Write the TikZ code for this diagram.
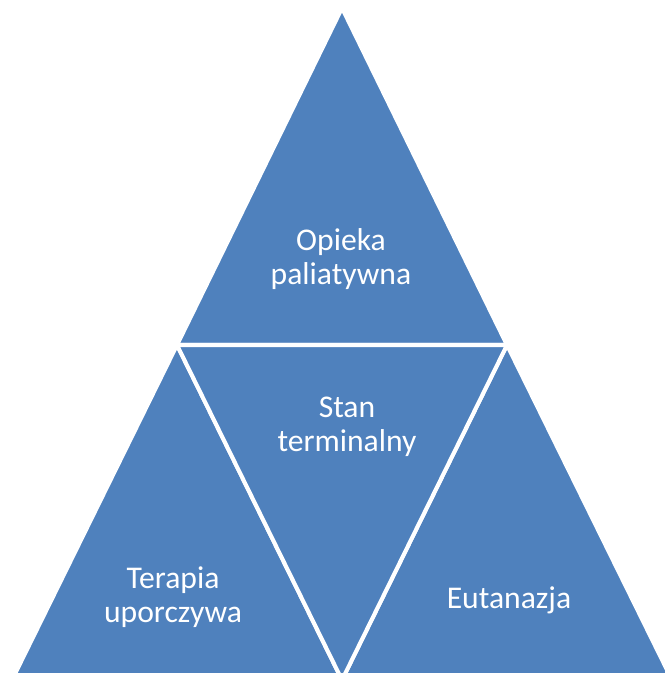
\documentclass[tikz,border=0pt]{standalone}
\usepackage{fontspec}
\setmainfont{Carlito}
\definecolor{pyrblue}{HTML}{4F81BD}

\begin{document}
\begin{tikzpicture}[x=0.02cm,y=-0.02cm]
\tikzstyle{every node}+=[inner sep=0pt]
\tikzstyle{tri}=[fill=pyrblue,draw=white,line width=2.3pt,line join=miter]
\tikzstyle{lbl}=[text=white,align=center,font=\fontsize{18}{19.2}\selectfont]
\useasboundingbox (0,0) rectangle (665,673);
\clip (0,0) rectangle (665,673);
% corners of the pyramid
\coordinate (T) at (342,8);
\coordinate (ML) at (177,345);
\coordinate (MR) at (507,345);
\coordinate (BL) at (12,680);
\coordinate (BM) at (342,680);
\coordinate (BR) at (672,680);
\draw [tri] (T) -- (ML) -- (MR) -- cycle;
\draw [tri] (ML) -- (BL) -- (BM) -- cycle;
\draw [tri] (MR) -- (BM) -- (BR) -- cycle;
\draw [tri] (ML) -- (MR) -- (BM) -- cycle;
\node [lbl] (opieka) at (341,259) {Opieka\\paliatywna};
\node [lbl] (stan) at (347,427) {Stan\\terminalny};
\node [lbl] (terapia) at (173,597) {Terapia\\uporczywa};
\node [lbl] (eutanazja) at (509,600) {Eutanazja};
\end{tikzpicture}
\end{document}
